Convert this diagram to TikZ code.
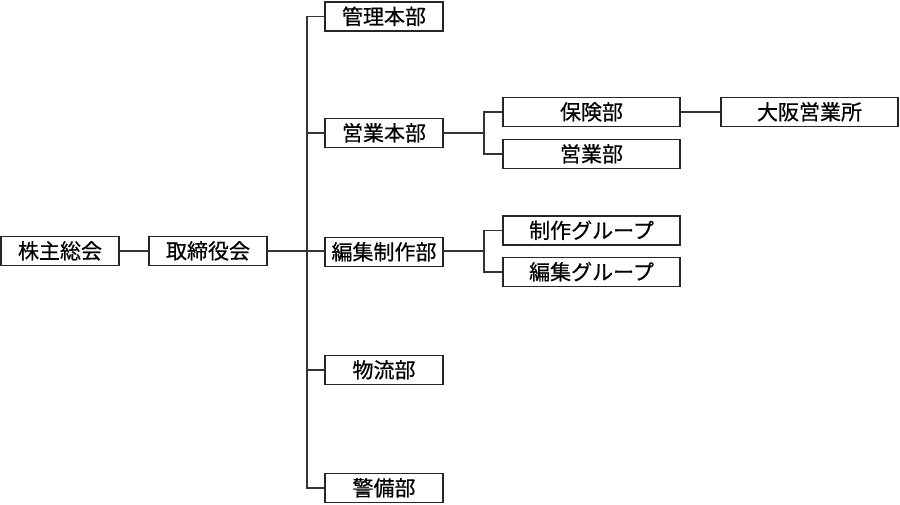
\documentclass[tikz,border=0pt]{standalone}
\usepackage{fontspec}
\newfontfamily\jpfont[FakeBold=0.5]{Noto Sans CJK JP}
\begin{document}
\begin{tikzpicture}[x=1pt,y=-1pt,
  box/.style={draw=black!85, line width=1.1pt, fill=white, minimum height=29pt, inner sep=0pt,
    text height=18.2pt, text depth=2.6pt, font=\jpfont\fontsize{21}{21}\selectfont},
  wbox/.style={box, minimum width=118pt},
  lbox/.style={box, minimum width=177pt},
  conn/.style={draw=black!80, line width=1.1pt}]
\useasboundingbox (0,0) rectangle (900,504);
% nodes
\node[wbox] (kabu) at (60,251) {株主総会};
\node[wbox] (tori) at (208,251) {取締役会};
\node[wbox] (kanri) at (384,16.5) {管理本部};
\node[wbox] (eihon) at (384,133) {営業本部};
\node[wbox] (hensei) at (384,252) {編集制作部};
\node[wbox] (butsu) at (384,370) {物流部};
\node[wbox] (keibi) at (384,488) {警備部};
\node[lbox] (hoken) at (591.5,112) {保険部};
\node[lbox] (eigyo) at (591.5,154) {営業部};
\node[lbox] (osaka) at (809.5,112) {大阪営業所};
\node[lbox] (seisaku) at (591.5,230.5) {制作グループ};
\node[lbox] (hgrp) at (591.5,272) {編集グループ};
% bus coordinates
\coordinate (bus) at (307,251);
\coordinate (sb1) at (484,133);
\coordinate (sb2) at (484,251);
% connectors
\draw[conn] (kabu.east) -- (tori.west);
\draw[conn] (tori.east) -- (bus);
\draw[conn] (kanri.west) -| (bus) |- (keibi.west);
\draw[conn] (eihon.west) -- (eihon.west -| bus);
\draw[conn] (hensei.west |- bus) -- (bus);
\draw[conn] (butsu.west) -- (butsu.west -| bus);
\draw[conn] (eihon.east) -- (sb1);
\draw[conn] (hoken.west) -| (sb1) |- (eigyo.west);
\draw[conn] (hoken.east) -- (osaka.west);
\draw[conn] (hensei.east |- sb2) -- (sb2);
\draw[conn] (seisaku.west) -| (sb2) |- (hgrp.west);
\end{tikzpicture}
\end{document}
